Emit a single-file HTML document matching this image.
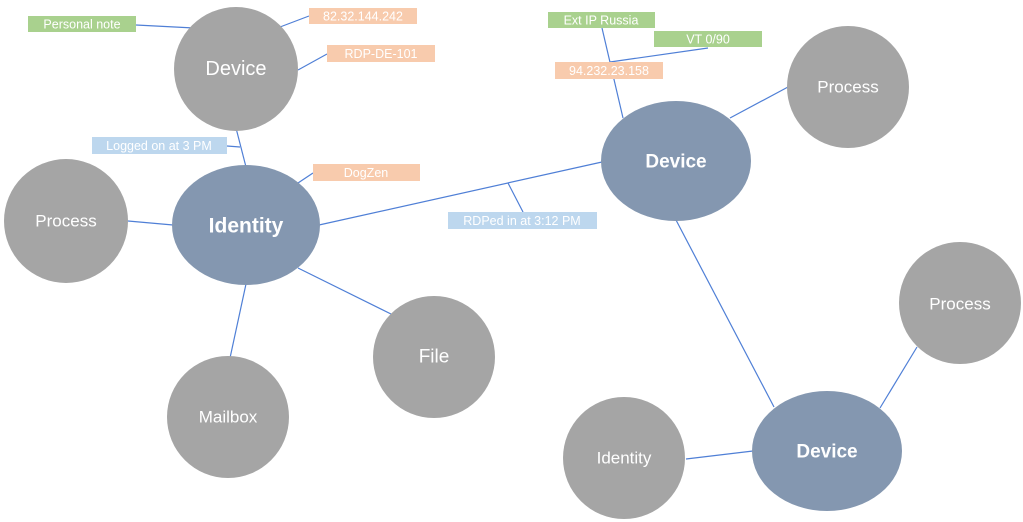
<!DOCTYPE html>
<html><head><meta charset="utf-8"><style>
html,body{margin:0;padding:0;background:#fff;width:1023px;height:522px;overflow:hidden}
svg text{font-family:"Liberation Sans",sans-serif;fill:#fff;text-anchor:middle;dominant-baseline:central}
</style></head><body>
<svg width="1023" height="522" viewBox="0 0 1023 522" xmlns="http://www.w3.org/2000/svg">
<g stroke="#4f7fd6" stroke-width="1.2" fill="none">
<line x1="136" y1="25" x2="194" y2="28"/>
<line x1="280" y1="27" x2="309" y2="16"/>
<line x1="298" y1="70" x2="327" y2="54"/>
<line x1="236" y1="128" x2="246" y2="167"/>
<line x1="227" y1="146" x2="240" y2="147"/>
<line x1="298" y1="183" x2="313" y2="173"/>
<line x1="128" y1="221" x2="173" y2="225"/>
<line x1="319" y1="225" x2="602" y2="162"/>
<line x1="508" y1="183" x2="523" y2="212"/>
<line x1="246" y1="284" x2="230" y2="358"/>
<line x1="298" y1="268" x2="393" y2="315"/>
<line x1="602" y1="28" x2="623" y2="118"/>
<line x1="610" y1="62" x2="708" y2="48"/>
<line x1="730" y1="118" x2="788" y2="87"/>
<line x1="676" y1="220" x2="774" y2="407"/>
<line x1="880" y1="408" x2="917" y2="347"/>
<line x1="686" y1="459" x2="753" y2="451"/>
</g>
<g fill="#a5a5a5">
<circle cx="236" cy="69" r="62"/>
<circle cx="66" cy="221" r="62"/>
<circle cx="228" cy="417" r="61"/>
<circle cx="434" cy="357" r="61"/>
<circle cx="848" cy="87" r="61"/>
<circle cx="960" cy="303" r="61"/>
<circle cx="624" cy="458" r="61"/>
</g>
<g fill="#8497b0">
<ellipse cx="246" cy="225" rx="74" ry="60"/>
<ellipse cx="676" cy="161" rx="75" ry="60"/>
<ellipse cx="827" cy="451" rx="75" ry="60"/>
</g>
<text x="236" y="69" font-size="20">Device</text>
<text x="66" y="221" font-size="17">Process</text>
<text x="228" y="417" font-size="17">Mailbox</text>
<text x="434" y="357" font-size="19">File</text>
<text x="848" y="87" font-size="17">Process</text>
<text x="960" y="304" font-size="17">Process</text>
<text x="624" y="458" font-size="17">Identity</text>
<text x="246" y="226" font-size="21" font-weight="bold">Identity</text>
<text x="676" y="162" font-size="19" font-weight="bold">Device</text>
<text x="827" y="452" font-size="19" font-weight="bold">Device</text>
<g font-size="12.5">
<rect x="28" y="16" width="108" height="16" fill="#a9d18e"/><text x="82" y="24.5">Personal note</text>
<rect x="309" y="8" width="108" height="16" fill="#f8cbad"/><text x="363" y="16.5">82.32.144.242</text>
<rect x="327" y="45" width="108" height="17" fill="#f8cbad"/><text x="381" y="54">RDP-DE-101</text>
<rect x="92" y="137" width="135" height="17" fill="#bdd7ee"/><text x="159" y="146">Logged on at 3 PM</text>
<rect x="313" y="164" width="107" height="17" fill="#f8cbad"/><text x="366" y="173">DogZen</text>
<rect x="548" y="12" width="107" height="16" fill="#a9d18e"/><text x="601" y="20.5">Ext IP Russia</text>
<rect x="654" y="31" width="108" height="16" fill="#a9d18e"/><text x="708" y="39.5">VT 0/90</text>
<rect x="555" y="62" width="108" height="17" fill="#f8cbad"/><text x="609" y="71">94.232.23.158</text>
<rect x="448" y="212" width="149" height="17" fill="#bdd7ee"/><text x="522" y="221">RDPed in at 3:12 PM</text>
</g>
</svg>
</body></html>
